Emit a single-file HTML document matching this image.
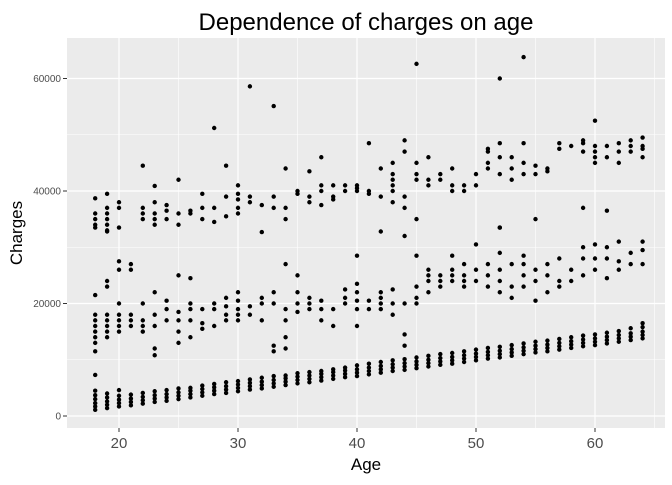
<!DOCTYPE html>
<html><head><meta charset="utf-8"><style>
body{margin:0;background:#fff;font-family:"Liberation Sans",sans-serif}
</style></head><body>
<svg id="chart" width="672" height="480" xmlns="http://www.w3.org/2000/svg">
<text x="366" y="30" text-anchor="middle" font-size="24" fill="#000">Dependence of charges on age</text>
<rect x="67" y="38" width="598" height="390" fill="#ebebeb"/>
<g id="grid"></g><g id="ticks"></g><g id="points"></g>
<text x="366" y="470" text-anchor="middle" font-size="17">Age</text>
<text transform="translate(22,233) rotate(-90)" text-anchor="middle" font-size="17">Charges</text>
</svg>
<script>
const xTicks=[20,30,40,50,60];
const xMinor=[25,35,45,55,65];
const yTicks=[0,20000,40000,60000];
const yMinor=[10000,30000,50000];
// charges in thousands, grouped by age
const lowBand=[[18,[1.1,1.7,2.3,3.0,3.7,4.5,7.3]],[19,[1.4,2.0,2.6,3.3,4.0]],[20,[1.7,2.3,2.9,3.6,4.6]],[21,[1.9,2.5,3.1,3.8]],[22,[2.2,2.8,3.4,4.1]],[23,[2.5,3.1,3.7,4.4]],[24,[2.7,3.3,3.9,4.6]],[25,[3.0,3.6,4.2,4.9]],[26,[3.3,3.9,4.5,5.0]],[27,[3.6,4.2,4.8,5.4]],[28,[3.9,4.5,5.1,5.7]],[29,[4.1,4.7,5.3,6.0]],[30,[4.4,5.0,5.6,6.2]],[31,[4.7,5.3,5.9,6.5]],[32,[4.9,5.5,6.1,6.8]],[33,[5.2,5.8,6.4,7.1]],[34,[5.5,6.1,6.7,7.2]],[35,[5.8,6.4,7.0,7.6]],[36,[6.0,6.6,7.2,7.8]],[37,[6.3,6.9,7.5,8.0]],[38,[6.6,7.2,7.8,8.3]],[39,[6.9,7.5,8.1,8.6]],[40,[7.1,7.7,8.3,9.0]],[41,[7.4,8.0,8.6,9.3]],[42,[7.7,8.3,8.9,9.6]],[43,[8.0,8.6,9.2,9.9]],[44,[8.2,8.8,9.4,10.1]],[45,[8.5,9.1,9.7,10.4]],[46,[8.8,9.4,10.0,10.7]],[47,[9.1,9.7,10.3,11.0]],[48,[9.3,9.9,10.5,11.2]],[49,[9.6,10.2,10.8,11.5]],[50,[9.9,10.5,11.1,11.8]],[51,[10.2,10.8,11.4,12.1]],[52,[10.4,11.0,11.6,12.3]],[53,[10.7,11.3,11.9,12.6]],[54,[11.0,11.6,12.2,12.9]],[55,[11.3,11.9,12.5,13.2]],[56,[11.5,12.1,12.7,13.4]],[57,[11.8,12.4,13.0,13.7]],[58,[12.1,12.7,13.3,14.0]],[59,[12.4,13.0,13.6,14.3]],[60,[12.6,13.2,13.8,14.5]],[61,[12.9,13.5,14.1,14.8]],[62,[13.2,13.8,14.4,15.1]],[63,[13.5,14.1,14.7,15.6]],[64,[13.8,14.4,15.0,15.8,16.5]]];
const midBand=[[18,[11.5,13,14,15,16,17,18,21.5]],[19,[14,15,16,17,18,23,24]],[20,[15,16,17,18,20,26,27.5]],[21,[16,17,18,26,27]],[22,[15,16,17,20]],[23,[10.8,12,16,18,22]],[24,[17,19,20.5]],[25,[13,15,17,18.5,25]],[26,[14,17,19,20,24.5]],[27,[15.5,16.5,19]],[28,[16,19,20]],[29,[17,18,19.5,21]],[30,[17,18,19,20.5,22]],[31,[18,19.5]],[32,[17,20,21]],[33,[11.5,12.5,20,22]],[34,[12,14,17,19,27]],[35,[18.5,20,22,25]],[36,[19,20,21]],[37,[17,19,20.5]],[38,[16,19]],[39,[20,21,22.5]],[40,[16,19,20.5,22,23.5,28.5]],[41,[19,20.5]],[42,[19,20,21,22]],[43,[18,20,22.5]],[44,[12.5,14.5,20]],[45,[20,21,23,28.5]],[46,[22,24,25,26]],[47,[23,24,25]],[48,[24,25,26,28.5]],[49,[23,24,25,27]],[50,[24,26,30.5]],[51,[23,25,27]],[52,[22,24,26,29,33.5]],[53,[21,23,27]],[54,[23,25,27,28.5]],[55,[20.5,24,26]],[56,[22,25,27]],[57,[23,24,28]],[58,[24,26]],[59,[25,28,30]],[60,[26,28,30.5]],[61,[24.5,28,30]],[62,[26,27.5,31]],[63,[27,29]],[64,[27,29.5,31]]];
const highBand=[[18,[33.5,34,35,36,38.7]],[19,[32.8,33,34,35,36,37,39.5]],[20,[33.5,37,38]],[22,[35,36,37,44.5]],[23,[34,35,36,38,40.9]],[24,[35,36.5,37.5]],[25,[34,36,42]],[26,[36,36.5]],[27,[35,37,39.5]],[28,[34.5,37,51.2]],[29,[35.5,39,44.5]],[30,[36,37,38.5,39.5,41]],[31,[38,39,58.6]],[32,[32.7,37.5]],[33,[37,39,55.1]],[34,[35,37,44]],[35,[39.5,40]],[36,[38,39,43.5]],[37,[37.5,40,41,46]],[38,[38.5,39,41]],[39,[40,41]],[40,[40,40.5,41]],[41,[39.5,40,48.5]],[42,[32.8,39,44]],[43,[38,40,41,42,43,45]],[44,[32,37,39,47,49]],[45,[35,42,43,45,62.6]],[46,[41,42,46]],[47,[42,43]],[48,[40,41,44]],[49,[40,41]],[50,[41,43]],[51,[44,45,47,47.5]],[52,[33.5,43,46,48.5,60]],[53,[42,44,46]],[54,[43,45,48.5,63.8]],[55,[35,43,44.5]],[56,[43.5,44]],[57,[47.5,48.5]],[58,[48]],[59,[37,47,48.5,49]],[60,[45,46,47,48,52.5]],[61,[36.5,46,48]],[62,[45,47,48.5]],[63,[47,48,49]],[64,[46,47.5,48,49.5]]];

const X=a=>119+(a-20)*11.9;
const Y=v=>416-v*0.005625;
const ns="http://www.w3.org/2000/svg";
function mk(tag,attrs,parent){const e=document.createElementNS(ns,tag);for(const k in attrs)e.setAttribute(k,attrs[k]);parent.appendChild(e);return e;}
const grid=document.getElementById('grid'),ticks=document.getElementById('ticks'),pts=document.getElementById('points');
xMinor.forEach(a=>{const l=mk('line',{x1:X(a),x2:X(a),y1:38,y2:428,stroke:'#fff','stroke-width':0.6},grid);

});
yMinor.forEach(v=>{const l=mk('line',{x1:67,x2:665,y1:Y(v),y2:Y(v),stroke:'#fff','stroke-width':0.6},grid);

});
xTicks.forEach(a=>{const l=mk('line',{x1:X(a),x2:X(a),y1:38,y2:428,stroke:'#fff','stroke-width':1.2},grid);


mk('line',{x1:X(a),x2:X(a),y1:428,y2:432,stroke:'#333'},ticks);
const t=mk('text',{x:X(a),y:448,'text-anchor':'middle','font-size':15,fill:'#4d4d4d'},ticks);t.textContent=a;

});
yTicks.forEach(v=>{const l=mk('line',{x1:67,x2:665,y1:Y(v),y2:Y(v),stroke:'#fff','stroke-width':1.2},grid);


mk('line',{x1:63,x2:67,y1:Y(v),y2:Y(v),stroke:'#333'},ticks);
const t=mk('text',{x:61,y:Y(v)+3.5,'text-anchor':'end','font-size':10,fill:'#4d4d4d'},ticks);t.textContent=v;

});
[lowBand,midBand,highBand].forEach(band=>band.forEach(([a,vals])=>vals.forEach(v=>{
const c=mk('circle',{cx:X(a),cy:Y(v*1000),r:2.2,fill:'#000'},pts);

})));
</script>
</body></html>
